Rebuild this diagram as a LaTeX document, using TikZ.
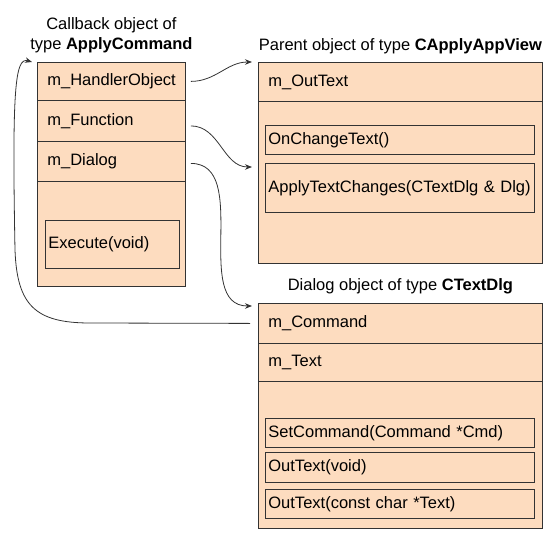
\documentclass[tikz,border=0pt]{standalone}
\usepackage{fontspec}
\setsansfont{Liberation Sans}
\usepackage{tikz}
\usetikzlibrary{positioning, arrows.meta}
\definecolor{peach}{RGB}{253,220,191}
\definecolor{linecol}{RGB}{51,51,51}

\begin{document}
\begin{tikzpicture}[x=1pt, y=-1pt, font=\fontsize{16.5}{20}\selectfont\sffamily,
  row/.style={draw=linecol, fill=peach, line width=0.8pt, anchor=north west, inner xsep=10pt, inner ysep=0pt, align=left},
  meth/.style={draw=linecol, line width=0.8pt, anchor=north west, inner xsep=3pt, inner ysep=0pt, align=left},
  title/.style={inner sep=0pt, align=center},
  conn/.style={draw=linecol, line width=0.8pt, -{Stealth[length=7pt, width=5.5pt]}}]
\useasboundingbox (0,0) rectangle (550,536);

% callback object
\node[row, minimum width=148pt, minimum height=38pt, text width=128pt] (handler) at (37,62) {m\_HandlerObject};
\node[row, minimum width=148pt, minimum height=41pt, text width=128pt] (func) at (37,100) {m\_Function};
\node[row, minimum width=148pt, minimum height=40pt, text width=128pt] (dialog) at (37,141) {m\_Dialog};
\node[row, minimum width=148pt, minimum height=105pt, text width=128pt] (cbbody) at (37,181) {};
\node[meth, minimum width=134pt, minimum height=48pt, text width=128pt] (execute) at (45,220) {Execute(void)};
\node[title, above=9pt of handler.north] (cbtitle) {Callback object of\\type \textbf{ApplyCommand}};

% parent object
\node[row, minimum width=284pt, minimum height=39pt, text width=264pt] (outtext) at (258,62) {m\_OutText};
\node[row, minimum width=284pt, minimum height=162pt, text width=264pt] (pbody) at (258,101) {};
\node[meth, minimum width=269pt, minimum height=29pt, text width=263pt] (onchange) at (265,125) {OnChangeText()};
\node[meth, minimum width=269pt, minimum height=49pt, text width=263pt] (apply) at (265,163) {ApplyTextChanges(CTextDlg \& Dlg)};
\node[title, above=8pt of outtext.north] (ptitle) {Parent object of type \textbf{CApplyAppView}};

% dialog object
\node[row, minimum width=284pt, minimum height=40pt, text width=264pt] (command) at (258,303) {m\_Command};
\node[row, minimum width=284pt, minimum height=38pt, text width=264pt] (mtext) at (258,343) {m\_Text};
\node[row, minimum width=284pt, minimum height=147pt, text width=264pt] (dbody) at (258,381) {};
\node[meth, minimum width=269pt, minimum height=29pt, text width=263pt] (setcmd) at (265,418) {SetCommand(Command *Cmd)};
\node[meth, minimum width=269pt, minimum height=30pt, text width=263pt] (outvoid) at (265,452) {OutText(void)};
\node[meth, minimum width=269pt, minimum height=29pt, text width=263pt] (outconst) at (265,489) {OutText(const char *Text)};
\node[title, above=9pt of command.north] (dtitle) {Dialog object of type \textbf{CTextDlg}};

% pointers
\draw[conn] ([xshift=5pt]handler.east) to[out=0, in=180] ([xshift=-6pt]outtext.north west);
\draw[conn] ([shift={(5pt,-5pt)}]func.east) to[out=0, in=180] ([xshift=-6pt, yshift=-4pt]apply.north -| pbody.west);
\draw[conn] ([shift={(5pt,-2pt)}]dialog.east) to[out=0, in=180] ([xshift=-6pt, yshift=-3pt]command.north west);
\draw[conn] ([xshift=-8pt]command.west) -- (90,323) .. controls (35,323) and (17,305) .. (15,250) .. controls (12,90) and (15,57) .. ([xshift=-5pt]handler.north west);
\end{tikzpicture}
\end{document}
